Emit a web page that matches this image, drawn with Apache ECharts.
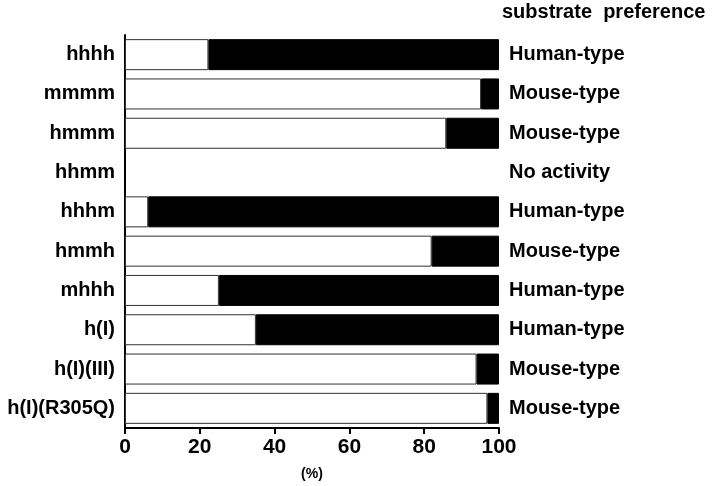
<!DOCTYPE html>
<html><head><meta charset="utf-8">
<script src="https://cdn.jsdelivr.net/npm/echarts@6/dist/echarts.min.js"></script>
<style>html,body{margin:0;padding:0;background:#fff}#c{width:720px;height:486px}</style>
</head><body><div id="c"></div>
<script>
const constructs = ['hhhh','mmmm','hmmm','hhmm','hhhm','hmmh','mhhh','h(I)','h(I)(III)','h(I)(R305Q)'];
const preference = ['Human-type','Mouse-type','Mouse-type','No activity','Human-type','Mouse-type','Human-type','Human-type','Mouse-type','Mouse-type'];
const mouseSubstrate = [22.3, 95.2, 85.9, null, 6.2, 82.0, 25.1, 35.0, 94.0, 96.9];
const humanSubstrate = [77.7, 4.8, 14.1, null, 93.8, 18.0, 74.9, 65.0, 6.0, 3.1];
const xTicks = [0, 20, 40, 60, 80, 100];

const font = 'Liberation Sans, Arial, sans-serif';
const chart = echarts.init(document.getElementById('c'));
chart.setOption({
  animation: false,
  grid: {left: 125, width: 374, top: 35, height: 393, containLabel: false, outerBoundsMode: 'none'},
  xAxis: {
    type: 'value', min: xTicks[0], max: xTicks[xTicks.length-1], interval: 20,
    splitLine: {show: false},
    axisLine: {show: true, lineStyle: {color: '#000', width: 2}},
    axisTick: {show: true, length: 6, lineStyle: {color: '#000', width: 2}},
    axisLabel: {color: '#000', fontSize: 21, fontWeight: 'bold', fontFamily: font, margin: 9},
    name: '(%)', nameLocation: 'middle', nameGap: 39,
    nameTextStyle: {color: '#000', fontSize: 14, fontWeight: 'bold', fontFamily: font}
  },
  yAxis: [{
    type: 'category', data: constructs, inverse: true,
    axisLine: {show: true, lineStyle: {color: '#000', width: 2}},
    axisTick: {show: false},
    axisLabel: {color: '#000', fontSize: 20, fontWeight: 'bold', fontFamily: font, margin: 10}
  }, {
    type: 'category', data: preference, inverse: true, position: 'right',
    axisLine: {show: false}, axisTick: {show: false},
    axisLabel: {color: '#000', fontSize: 20, fontWeight: 'bold', fontFamily: font, margin: 10, align: 'left'}
  }],
  graphic: [{
    type: 'text', left: 502, top: 2,
    style: {text: 'substrate  preference', fill: '#000', font: 'bold 20px ' + font}
  }],
  series: [{
    type: 'bar', stack: 's', data: mouseSubstrate, barWidth: 31,
    itemStyle: {color: '#fff', borderColor: '#333', borderWidth: 1}
  }, {
    type: 'bar', stack: 's', data: humanSubstrate, barWidth: 31,
    itemStyle: {color: '#000', borderColor: '#000', borderWidth: 1}
  }]
});
</script></body></html>
